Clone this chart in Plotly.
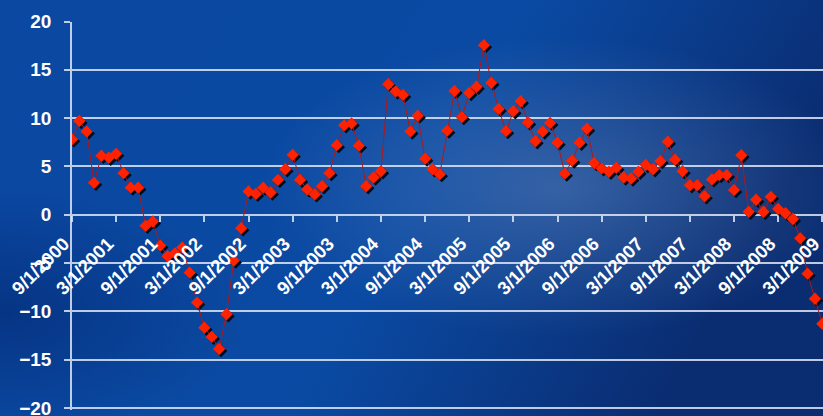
import base64

import pandas as pd
import plotly.graph_objects as go

# Monthly series, Sep 2000 through Mar 2009
months = pd.date_range("2000-09-01", "2009-03-01", freq="MS")
values = [
    7.8, 9.7, 8.6, 3.3, 6.1, 5.9, 6.3, 4.3, 2.8, 2.8,
    -1.15, -0.7, -3.2, -4.3, -4.0, -3.4, -6.0, -9.1, -11.7, -12.65,
    -13.9, -10.3, -4.75, -1.4, 2.4, 2.15, 2.8, 2.3, 3.6, 4.7,
    6.2, 3.6, 2.6, 2.1, 2.95, 4.3, 7.2, 9.25, 9.45, 7.15,
    2.95, 3.85, 4.5, 13.5, 12.75, 12.4, 8.6, 10.25, 5.8, 4.7,
    4.2, 8.7, 12.8, 10.1, 12.6, 13.25, 17.55, 13.65, 10.95, 8.65,
    10.7, 11.75, 9.55, 7.6, 8.6, 9.5, 7.45, 4.25, 5.6, 7.45,
    8.9, 5.35, 4.8, 4.45, 4.85, 3.85, 3.75, 4.45, 5.15, 4.7,
    5.55, 7.55, 5.7, 4.5, 3.05, 3.05, 1.9, 3.65, 4.1, 4.1,
    2.55, 6.15, 0.3, 1.55, 0.3, 1.85, 0.6, 0.15, -0.45, -2.45,
    -6.1, -8.7, -11.3,
]
x_idx = list(range(len(months)))

# Category ticks every six months
tick_idx = x_idx[::6]
tick_text = [f"{d.month}/{d.day}/{d.year}" for d in months[::6]]
y_ticks = [20, 15, 10, 5, 0, -5, -10, -15, -20]

W, H = 823, 416
PLOT_LEFT, PLOT_TOP = 72, 21.5
PX_PER_MONTH = 7.356
PX_PER_UNIT = 9.66
Y_MIN, Y_MAX = -20.2, 20
PLOT_BOTTOM = PLOT_TOP + (Y_MAX - Y_MIN) * PX_PER_UNIT

# Slide-style blue background
svg = f"""<svg xmlns="http://www.w3.org/2000/svg" width="{W}" height="{H}" viewBox="0 0 {W} {H}">
<defs>
<linearGradient id="base" x1="0" y1="0" x2="1" y2="0.3">
<stop offset="0" stop-color="#0a48a2"/>
<stop offset="0.6" stop-color="#0a4aa3"/>
<stop offset="1" stop-color="#0a2d72"/>
</linearGradient>
<radialGradient id="glow" cx="0.68" cy="0.45" r="0.36">
<stop offset="0" stop-color="#7c98c4" stop-opacity="0.38"/>
<stop offset="1" stop-color="#7c98c4" stop-opacity="0"/>
</radialGradient>
<radialGradient id="dark" cx="0" cy="0.75" r="0.3">
<stop offset="0" stop-color="#03236a" stop-opacity="0.55"/>
<stop offset="1" stop-color="#03236a" stop-opacity="0"/>
</radialGradient>
</defs>
<rect width="{W}" height="{H}" fill="url(#base)"/>
<rect width="{W}" height="{H}" fill="url(#glow)"/>
<rect width="{W}" height="{H}" fill="url(#dark)"/>
</svg>"""
bg_src = "data:image/svg+xml;base64," + base64.b64encode(svg.encode()).decode()

# Drop shadow offset (2px right, 2px down)
sx = 2 / PX_PER_MONTH
sy = -2 / PX_PER_UNIT

fig = go.Figure()
fig.add_trace(go.Scatter(
    x=[v + sx for v in x_idx], y=[v + sy for v in values], mode="markers",
    marker=dict(symbol="diamond", size=9.5, color="#050a1a", line=dict(width=0)),
    hoverinfo="skip", showlegend=False,
))
fig.add_trace(go.Scatter(
    x=x_idx, y=values, mode="lines+markers",
    line=dict(color="#b01818", width=1),
    marker=dict(symbol="diamond", size=9.5, color="#ff2200", line=dict(width=0)),
    showlegend=False,
))

grid_color = "rgba(222,230,244,0.85)"
y_dom = [1 - PLOT_BOTTOM / H, 1 - PLOT_TOP / H]
zero_pos = 1 - (PLOT_TOP + Y_MAX * PX_PER_UNIT) / H

fig.update_layout(
    width=W, height=H,
    margin=dict(l=0, r=0, t=0, b=0),
    paper_bgcolor="#0a46a0",
    plot_bgcolor="rgba(0,0,0,0)",
    images=[dict(source=bg_src, xref="paper", yref="paper", x=0, y=1,
                 sizex=1, sizey=1, xanchor="left", yanchor="top",
                 sizing="stretch", layer="below")],
    xaxis=dict(
        domain=[PLOT_LEFT / W, 1],
        range=[0, (W - PLOT_LEFT) / PX_PER_MONTH],
        anchor="free", position=zero_pos,
        showgrid=False, zeroline=False, showline=False,
        tickmode="array", tickvals=tick_idx, ticktext=tick_text,
        ticks="outside", ticklen=6, tickwidth=1.5, tickcolor=grid_color,
        tickangle=-45, automargin=False, ticklabeloverflow="allow",
        ticklabelstandoff=4, ticklabelshift=-8,
        tickfont=dict(family="Liberation Sans, Arial", size=18.5, color="white", weight="bold"),
    ),
    yaxis=dict(
        domain=y_dom, range=[Y_MIN, Y_MAX],
        tickmode="array", tickvals=y_ticks,
        showgrid=True, gridcolor=grid_color, gridwidth=1.5,
        zeroline=False, showline=True, linecolor=grid_color, linewidth=1.5,
        ticks="outside", ticklen=6, tickwidth=1.5, tickcolor=grid_color,
        ticklabelstandoff=9, automargin=False, ticklabeloverflow="allow",
        tickfont=dict(family="Liberation Sans, Arial", size=19, color="white", weight="bold"),
    ),
)

fig.write_html("out.html")
